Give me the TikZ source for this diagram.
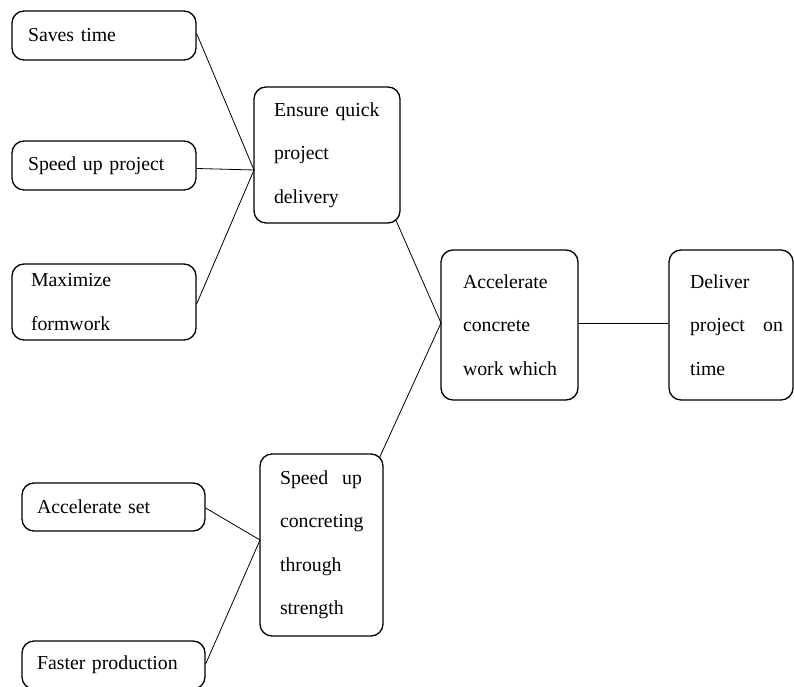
\documentclass[tikz,border=0pt]{standalone}
\usepackage{fontspec}
\setmainfont{Liberation Serif}
\begin{document}
\begin{tikzpicture}[x=1pt,y=1pt,
  box/.style={draw=black, line width=1.3pt, rounded corners=12pt, inner sep=0pt,
              align=left, font=\fontsize{19.8}{43.5}\selectfont},
  link/.style={draw=black, line width=0.8pt}]
\useasboundingbox (0,0) rectangle (794,687);

% left column, upper group
\node[box, minimum width=184, minimum height=49, text width=152] (saves) at (104,651.5) {Saves time};
\node[box, minimum width=184, minimum height=49, text width=152] (speed) at (104,521.5) {Speed up project};
\node[box, minimum width=184, minimum height=76, text width=146] (maxim) at (104,385) {Maximize\\formwork};

% middle and right
\node[box, minimum width=146, minimum height=136, text width=106] (ensure) at (327,532) {Ensure quick\\project\\delivery};
\node[box, minimum width=137, minimum height=150, text width=93] (accel) at (509.5,362) {Accelerate\\concrete\\\leavevmode\hbox to 94pt{work\hfill which}};
\node[box, minimum width=124, minimum height=150, text width=82] (deliver) at (731,362) {Deliver\\\leavevmode\hbox to 93pt{project\hfill on}\\time};

% left column, lower group
\node[box, minimum width=183, minimum height=48, text width=153] (acset) at (113.5,180) {Accelerate set};
\node[box, minimum width=123, minimum height=182, text width=83] (speedc) at (321.5,142) {\leavevmode\hbox to 82pt{Speed\hfill up}\\concreting\\through\\strength};
\node[box, minimum width=183, minimum height=48, text width=153] (faster) at (113.5,22) {Faster production};

% meeting points of the connectors
\coordinate (ein) at (254,517);
\coordinate (ain) at (441,364);
\coordinate (sin) at (260,147);

\draw[link] ([yshift=2]saves.east) -- (ein);
\draw[link] ([yshift=-3]speed.east) -- (ein);
\draw[link] ([yshift=-2]maxim.east) -- (ein);
\draw[link] ([xshift=-5,yshift=4]ensure.south east) -- (ain);
\draw[link] ([xshift=-4,yshift=-4]speedc.north east) -- (ain);
\draw[link] (accel.east |- ain) -- (deliver.west |- ain);
\draw[link] ([yshift=-1]acset.east) -- (sin);
\draw[link] ([yshift=1]faster.east) -- (sin);
\end{tikzpicture}
\end{document}
